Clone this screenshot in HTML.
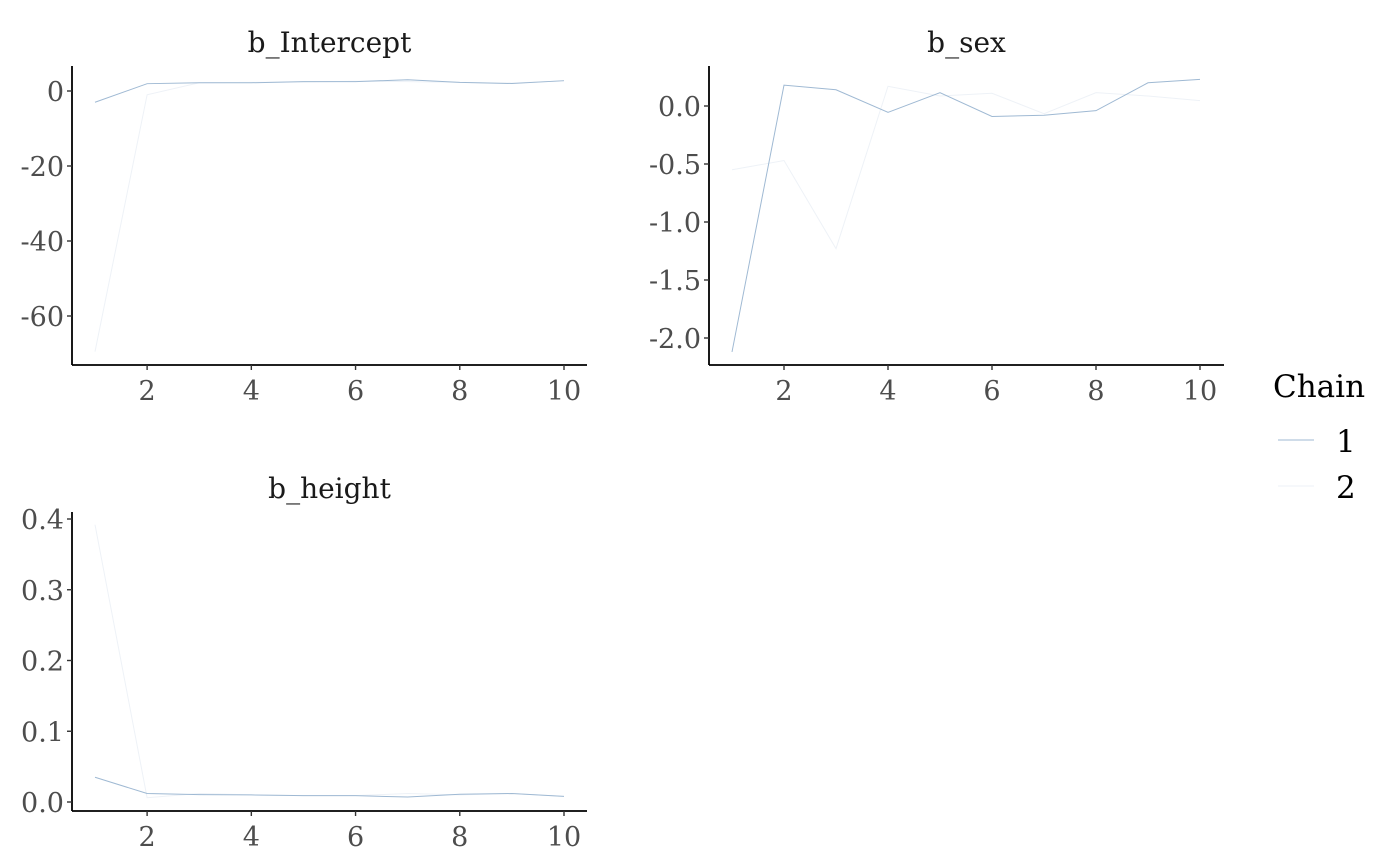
<!DOCTYPE html>
<html><head><meta charset="utf-8"><style>
body{margin:0;background:#fff;}
svg{display:block;font-family:"DejaVu Serif","Liberation Serif",serif;}
.tick{fill:#4d4d4d;font-size:27px;}
.title{fill:#1a1a1a;font-size:28px;}
</style></head><body>
<svg id="chart" width="1400" height="866"></svg>
<script>
const iterations=[1,2,3,4,5,6,7,8,9,10];
const interceptChain1=[-3.0,1.95,2.2,2.2,2.5,2.5,3.0,2.3,2.0,2.75];
const interceptChain2=[-69.5,-1.0,2.2,2.3,2.4,2.6,2.5,2.3,2.1,2.7];
const sexChain1=[-2.12,0.18,0.14,-0.055,0.115,-0.09,-0.08,-0.04,0.2,0.23];
const sexChain2=[-0.55,-0.47,-1.23,0.17,0.086,0.11,-0.066,0.115,0.086,0.046];
const heightChain1=[0.035,0.012,0.0105,0.01,0.009,0.009,0.007,0.011,0.012,0.008];
const heightChain2=[0.392,0.006,0.012,0.01,0.009,0.009,0.012,0.01,0.012,0.008];
const xTicks=[2,4,6,8,10];
const interceptTicks=[0,-20,-40,-60];
const sexTicks=[0.0,-0.5,-1.0,-1.5,-2.0];
const heightTicks=[0.0,0.1,0.2,0.3,0.4];
const chainColors=["#9fb9d3","#eef2f7"];
const NS="http://www.w3.org/2000/svg";
const svg=document.getElementById('chart');
function el(t,a,p){const e=document.createElementNS(NS,t);for(const k in a)e.setAttribute(k,a[k]);(p||svg).appendChild(e);return e;}
const panels=[
 {name:'b_Intercept',key:'intercept',L:72,R:587,T:66,B:365,x1:95,x10:564,v0:0,p0:91,v1:-60,p1:316,ticks:interceptTicks,fmt:v=>String(v),c1:interceptChain1,c2:interceptChain2},
 {name:'b_sex',key:'sex',L:709,R:1224,T:66,B:365,x1:732,x10:1200,v0:0,p0:106,v1:-2,p1:338,ticks:sexTicks,fmt:v=>v.toFixed(1),c1:sexChain1,c2:sexChain2},
 {name:'b_height',key:'height',L:72,R:587,T:512,B:811,x1:95,x10:564,v0:0,p0:802,v1:0.4,p1:519,ticks:heightTicks,fmt:v=>v.toFixed(1),c1:heightChain1,c2:heightChain2}
];
panels.forEach(p=>{
 const g=el('g',{});
 
 
 const xs=v=>p.x1+(v-1)*(p.x10-p.x1)/9;
 const ys=v=>p.p0+(v-p.v0)*(p.p1-p.p0)/(p.v1-p.v0);
 const t=el('text',{x:(p.L+p.R)/2,y:p.T-14,'text-anchor':'middle',class:'title'},g);
 t.textContent=p.name;
 
 
 [p.c2,p.c1].forEach((c,i)=>{
  const idx=i===0?1:0;
  const pl=el('polyline',{points:iterations.map((it,j)=>xs(it)+','+ys(c[j])).join(' '),fill:'none',stroke:chainColors[idx],'stroke-width':1},g);
  
  
 });
 const ya=el('line',{x1:p.L,y1:p.T,x2:p.L,y2:p.B,stroke:'#000','stroke-width':1.8},g);
 
 
 const xa=el('line',{x1:p.L,y1:p.B,x2:p.R,y2:p.B,stroke:'#000','stroke-width':1.8},g);
 
 
 p.ticks.forEach(v=>{
  const y=ys(v);
  el('line',{x1:p.L-5,y1:y,x2:p.L,y2:y,stroke:'#333','stroke-width':1.4},g);
  const tl=el('text',{x:p.L-8,y:y+10,'text-anchor':'end',class:'tick'},g);
  tl.textContent=p.fmt(v);
  
  
 });
 xTicks.forEach(v=>{
  const x=xs(v);
  el('line',{x1:x,y1:p.B,x2:x,y2:p.B+5,stroke:'#333','stroke-width':1.4},g);
  const tl=el('text',{x:x,y:p.B+35,'text-anchor':'middle',class:'tick'},g);
  tl.textContent=String(v);
  
  
 });
});
const lg=el('g',{});


const lt=el('text',{x:1273,y:397,style:'font-size:31px;fill:#000'},lg);
lt.textContent='Chain';


['1','2'].forEach((s,i)=>{
 const y=440+i*46;
 const k=el('line',{x1:1278,y1:y,x2:1314,y2:y,stroke:chainColors[i],'stroke-width':1},lg);
 
 
 const tx=el('text',{x:1336,y:y+12,style:'font-size:31px;fill:#000'},lg);
 tx.textContent=s;
 
 
});
</script>
</body></html>
